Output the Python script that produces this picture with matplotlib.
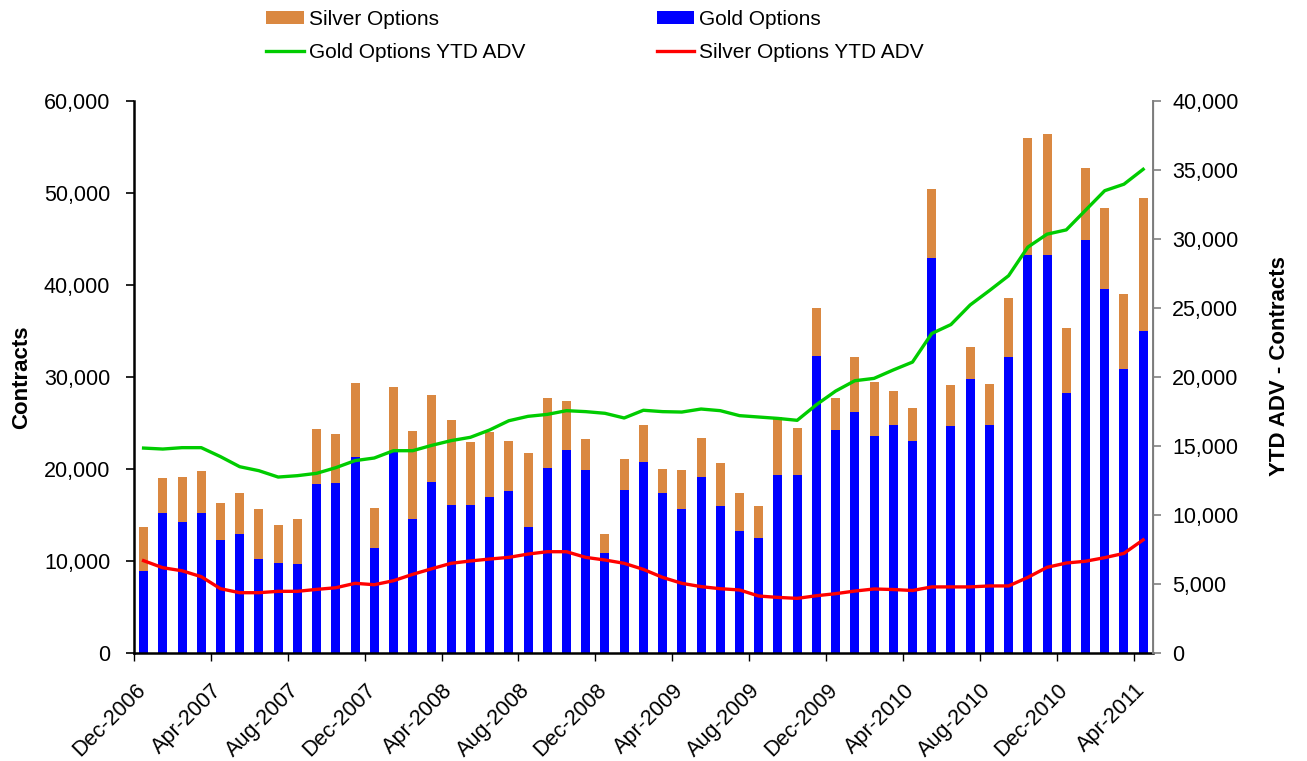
import matplotlib.pyplot as plt
import matplotlib.transforms as mtransforms
import numpy as np

plt.rcParams['font.family'] = ['Liberation Sans', 'DejaVu Sans']

# meses Dec-2006 .. Apr-2011
meses = ["Dec-2006", "Jan-2007", "Feb-2007", "Mar-2007", "Apr-2007", "May-2007", "Jun-2007",
         "Jul-2007", "Aug-2007", "Sep-2007", "Oct-2007", "Nov-2007", "Dec-2007", "Jan-2008",
         "Feb-2008", "Mar-2008", "Apr-2008", "May-2008", "Jun-2008", "Jul-2008", "Aug-2008",
         "Sep-2008", "Oct-2008", "Nov-2008", "Dec-2008", "Jan-2009", "Feb-2009", "Mar-2009",
         "Apr-2009", "May-2009", "Jun-2009", "Jul-2009", "Aug-2009", "Sep-2009", "Oct-2009",
         "Nov-2009", "Dec-2009", "Jan-2010", "Feb-2010", "Mar-2010", "Apr-2010", "May-2010",
         "Jun-2010", "Jul-2010", "Aug-2010", "Sep-2010", "Oct-2010", "Nov-2010", "Dec-2010",
         "Jan-2011", "Feb-2011", "Mar-2011", "Apr-2011"]

# opciones de oro (contratos)
gold = [8880, 15220, 14200, 15220, 12280, 12940, 10250, 9780, 9640, 18400, 18480, 21270, 11410,
        21810, 14570, 18590, 16090, 16090, 16960, 17610, 13700, 20150, 22070, 19890, 10870,
        17720, 20760, 17360, 15690, 19130, 15980, 13300, 12530, 19350, 19350, 32280, 24210,
        26230, 23550, 24790, 23050, 42910, 24680, 29760, 24790, 32130, 43260, 43260, 28210,
        44890, 39610, 30880, 34960]

# total oro + plata
total = [13660, 19020, 19130, 19780, 16340, 17360, 15620, 13950, 14570, 24350, 23840, 29320, 15730,
         28880, 24100, 28010, 25330, 22940, 24060, 23040, 21780, 27760, 27390, 23230, 12940,
         21050, 24820, 20000, 19860, 23340, 20650, 17360, 15980, 25620, 24430, 37500, 27720,
         32140, 29490, 28480, 26580, 50400, 29140, 33290, 29260, 38610, 55950, 56450, 35310,
         52770, 48340, 38990, 49470]

silver = [t - g for t, g in zip(total, gold)]

# promedio diario YTD
gold_ytd = [14850, 14780, 14880, 14880, 14230, 13500, 13210, 12750, 12850, 13020, 13430, 13940, 14130,
            14660, 14660, 15050, 15390, 15630, 16160, 16830, 17150, 17290, 17560, 17490, 17370,
            17030, 17590, 17490, 17460, 17680, 17560, 17200, 17100, 17000, 16860, 17990, 18980,
            19730, 19900, 20510, 21080, 23150, 23800, 25220, 26260, 27340, 29410, 30350, 30660,
            32080, 33500, 33970, 35050]

silver_ytd = [6690, 6180, 5960, 5530, 4660, 4370, 4370, 4470, 4470, 4610, 4730, 5050, 4950,
              5240, 5700, 6110, 6500, 6670, 6810, 6930, 7170, 7340, 7340, 6930, 6740,
              6500, 6060, 5480, 5050, 4810, 4660, 4570, 4130, 4030, 3960, 4150, 4300,
              4490, 4640, 4600, 4530, 4790, 4790, 4790, 4860, 4860, 5480, 6210, 6520,
              6650, 6910, 7220, 8200]

x = np.arange(len(meses))

fig = plt.figure(figsize=(13.07, 7.61), dpi=100)
ax = fig.add_axes([0.1025, 0.1419, 0.7795, 0.7254])
ax2 = ax.twinx()

b_silver = ax.bar(x, silver, bottom=gold, width=0.47, color='#DA8841', zorder=2)
b_gold = ax.bar(x, gold, width=0.47, color='#0000FF', zorder=2)

l_gold, = ax2.plot(x, gold_ytd, color='#00CC00', lw=2.4)
l_silver, = ax2.plot(x, silver_ytd, color='#FF0000', lw=2.4)

ax.set_xlim(-0.5, len(meses) - 0.5)
ax.set_ylim(0, 60000)
ax2.set_ylim(0, 40000)
ax.set_yticks(np.arange(0, 60001, 10000))
ax2.set_yticks(np.arange(0, 40001, 5000))
ax.yaxis.set_major_formatter(plt.FuncFormatter(lambda v, p: f"{int(v):,}"))
ax2.yaxis.set_major_formatter(plt.FuncFormatter(lambda v, p: f"{int(v):,}"))

ticks = x[::4] - 0.5
ax.set_xticks(ticks)
ax.set_xticklabels(meses[::4], rotation=45, ha='right', va='baseline',
                   rotation_mode='anchor', fontsize=15.5)
ax.tick_params(axis='x', length=6, width=1, pad=2)
# mover etiquetas como en el original
desplaza = mtransforms.ScaledTranslation(0.12, -0.27, fig.dpi_scale_trans)
for lab in ax.get_xticklabels():
    lab.set_transform(lab.get_transform() + desplaza)

ax.tick_params(axis='y', labelsize=15.5, length=6, width=1.2, pad=11)
ax2.tick_params(axis='y', labelsize=15.5, length=6, width=1.2, color='#808080', pad=8)

ax.spines['top'].set_visible(False)
ax2.spines['top'].set_visible(False)
ax.spines['bottom'].set_linewidth(1.8)
ax.spines['left'].set_linewidth(1.8)
ax2.spines['right'].set_color('#808080')
ax2.spines['right'].set_linewidth(1.4)
ax2.spines['bottom'].set_visible(False)
ax2.spines['left'].set_visible(False)

ax.set_ylabel("Contracts", fontsize=16, fontweight='bold')
ax.yaxis.set_label_coords(-0.100, 0.50)
ax2.set_ylabel("YTD ADV - Contracts", fontsize=16, fontweight='bold')
ax2.yaxis.set_label_coords(1.1138, 0.52)

fig.legend([b_silver, l_gold, b_gold, l_silver],
           ["Silver Options", "Gold Options YTD ADV", "Gold Options", "Silver Options YTD ADV"],
           ncol=2, loc='upper left', bbox_to_anchor=(0.1892, 1.012), frameon=False,
           fontsize=15, handlelength=1.82, handleheight=0.6, columnspacing=6.3,
           labelspacing=0.7, handletextpad=0.24)

plt.savefig("out.png", dpi=100)
